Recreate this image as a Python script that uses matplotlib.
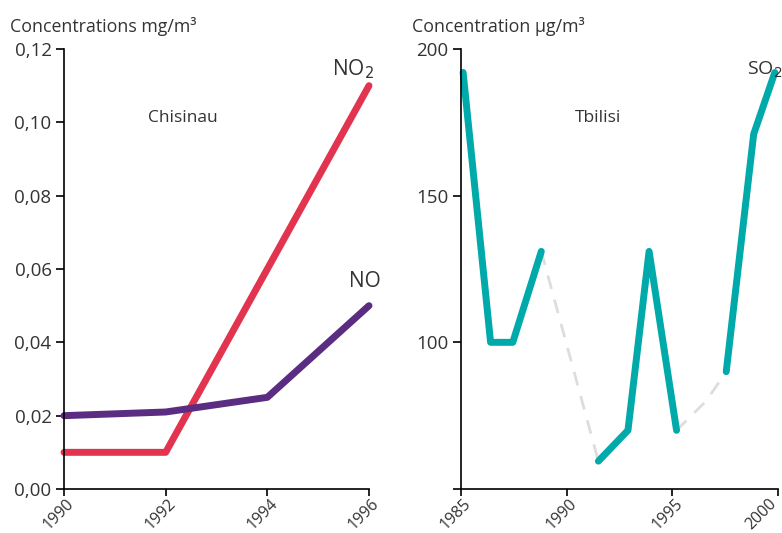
import matplotlib
matplotlib.use("Agg")
import matplotlib.pyplot as plt
from matplotlib.transforms import ScaledTranslation

plt.rcParams['font.family'] = ['Open Sans', 'DejaVu Sans']

# Chisinau (mg/m3)
anios_chi = [1990, 1992, 1994, 1996]
no2 = [0.01, 0.01, 0.06, 0.11]
no = [0.020, 0.021, 0.025, 0.050]

# Tbilisi SO2 (ug/m3), tramos medidos
so2_tramo1_x = [1985.1, 1986.4, 1987.45, 1988.8]
so2_tramo1_y = [192, 100, 100, 131]
so2_tramo2_x = [1991.5, 1992.9, 1993.9, 1995.2]
so2_tramo2_y = [59.5, 70, 131, 70]
so2_tramo3_x = [1997.55, 1998.85, 1999.85]
so2_tramo3_y = [90, 171, 192]
# huecos (línea discontinua)
hueco1_x = [1988.8, 1991.5]
hueco1_y = [131, 59.5]
hueco2_x = [1995.2, 1996.6, 1997.55]
hueco2_y = [70, 80, 90]

texto = "#333333"
rojo = "#E2344F"
morado = "#5A2D82"
verde = "#00A9AA"
gris = "#DDDDDD"

fig = plt.figure(figsize=(7.82, 5.33), dpi=100)
ax1 = fig.add_axes([64/782, 44/533, 305/782, 440/533])
ax2 = fig.add_axes([461/782, 44/533, 317/782, 440/533])

for ax in (ax1, ax2):
    ax.spines['top'].set_visible(False)
    ax.spines['right'].set_visible(False)
    ax.spines['left'].set_linewidth(1.2)
    ax.spines['bottom'].set_linewidth(1.2)
    ax.tick_params(axis='y', length=6, width=1.2, labelsize=13.5, labelcolor=texto, pad=3)
    ax.tick_params(axis='x', length=5, width=1.2, labelsize=11.5, labelcolor=texto, pad=0)

# -------- Chisinau --------
ax1.plot(anios_chi, no2, color=rojo, lw=5, solid_capstyle='round', solid_joinstyle='round', clip_on=False)
ax1.plot(anios_chi, no, color=morado, lw=5, solid_capstyle='round', solid_joinstyle='round', clip_on=False)
ax1.set_xlim(1990, 1996)
ax1.set_ylim(0, 0.12)
ax1.set_xticks([1990, 1992, 1994, 1996])
ax1.set_xticklabels(["1990", "1992", "1994", "1996"], rotation=45, ha='center', va='top')
ax1.set_yticks([0, 0.02, 0.04, 0.06, 0.08, 0.10, 0.12])
ax1.set_yticklabels(["0,00", "0,02", "0,04", "0,06", "0,08", "0,10", "0,12"])
ax1.text(1992.34, 0.1012, "Chisinau", fontsize=12.5, color=texto, ha='center', va='center')
ax1.text(1996.1, 0.1145, "NO$_2$", fontsize=15, color=texto, ha='right', va='center')
ax1.text(1996.24, 0.0565, "NO", fontsize=15, color=texto, ha='right', va='center')
fig.text(10/782, 1 - 27/533, "Concentrations mg/m³", fontsize=12.8, color=texto, ha='left', va='center')

# -------- Tbilisi --------
ax2.plot(hueco1_x, hueco1_y, color=gris, lw=2, ls=(0, (5, 4)))
ax2.plot(hueco2_x, hueco2_y, color=gris, lw=2, ls=(0, (5, 4)))
for xs, ys in [(so2_tramo1_x, so2_tramo1_y), (so2_tramo2_x, so2_tramo2_y), (so2_tramo3_x, so2_tramo3_y)]:
    ax2.plot(xs, ys, color=verde, lw=5, solid_capstyle='round', solid_joinstyle='round', clip_on=False)
ax2.set_xlim(1985, 2000)
ax2.set_ylim(50, 200)
ax2.set_xticks([1985, 1990, 1995, 2000])
ax2.set_xticklabels(["1985", "1990", "1995", "2000"], rotation=45, ha='center', va='top')
ax2.set_yticks([50, 100, 150, 200])
ax2.set_yticklabels(["", "100", "150", "200"])
ax2.text(1991.48, 176.5, "Tbilisi", fontsize=12.5, color=texto, ha='center', va='center')
ax2.text(2000.2, 193, "SO$_2$", fontsize=14, color=texto, ha='right', va='center')
fig.text(412/782, 1 - 27/533, "Concentration µg/m³", fontsize=12.8, color=texto, ha='left', va='center')

# desplazar un poco las etiquetas del eje x hacia la izquierda
for ax in (ax1, ax2):
    etiquetas = ax.get_xticklabels()
    for i, lab in enumerate(etiquetas):
        dx = -5
        if ax is ax2 and i == len(etiquetas) - 1:
            dx = -17
        lab.set_transform(lab.get_transform() + ScaledTranslation(dx / 100, 0, fig.dpi_scale_trans))

fig.savefig("out.png", dpi=100)
